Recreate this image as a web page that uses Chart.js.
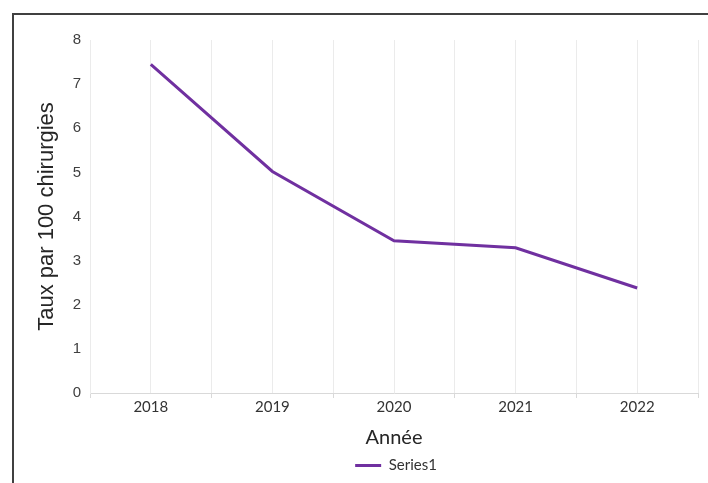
<!DOCTYPE html>
<html>
<head>
<meta charset="utf-8">
<script src="https://cdn.jsdelivr.net/npm/chart.js@4"></script>
<style>
  html, body { margin: 0; padding: 0; background: #fff; }
  #wrap { position: relative; width: 708px; height: 483px; overflow: hidden; }
  #frame { position: absolute; left: 12px; top: 13px; width: 720px; height: 500px;
           border-top: 2px solid #404040; border-left: 2px solid #404040; }
  canvas { position: absolute; left: 0; top: 0; }
</style>
</head>
<body>
<div id="wrap">
  <div id="frame"></div>
  <canvas id="chart" width="708" height="483"></canvas>
</div>
<script>
  // Données
  const years = [2018, 2019, 2020, 2021, 2022];
  const rates = [7.45, 5.02, 3.45, 3.29, 2.38];
  const yTicks = [0, 1, 2, 3, 4, 5, 6, 7, 8];

  const purple = '#7030a0';
  const gridGrey = '#ebebeb';

  // recentrer la légende sous la zone de tracé
  const legendShift = {
    id: 'legendShift',
    afterLayout(chart) {
      const L = chart.legend;
      const target = (chart.chartArea.left + chart.chartArea.right) / 2 + 2;
      const d = target - (L.left + L.right) / 2;
      L.left += d;
      L.right += d;
    }
  };

  new Chart(document.getElementById('chart'), {
    type: 'line',
    data: {
      datasets: [{
        label: 'Series1',
        data: years.map((y, i) => ({ x: y, y: rates[i] })),
        borderColor: purple,
        backgroundColor: purple,
        borderWidth: 3,
        pointRadius: 0,
        tension: 0,
      }],
    },
    options: {
      responsive: false,
      animation: false,
      layout: { padding: { top: 40, right: 10, bottom: 0, left: 0 } },
      scales: {
        x: {
          type: 'linear',
          min: 2017.5,
          max: 2022.5,
          afterBuildTicks: (scale) => {
            const t = [];
            for (let v = 2017.5; v <= 2022.5; v += 0.5) t.push({ value: v });
            scale.ticks = t;
          },
          afterFit: (scale) => { scale.height = 57; },
          ticks: {
            autoSkip: false,
            maxRotation: 0,
            padding: 0,
            color: '#333',
            font: { family: 'Lato', size: 15 },
            callback: (v) => (Number.isInteger(v) ? String(v) : ''),
          },
          grid: {
            color: gridGrey,
            drawTicks: true,
            tickLength: 5,
            tickColor: (ctx) => (ctx.tick && Number.isInteger(ctx.tick.value) ? 'rgba(0,0,0,0)' : '#d9d9d9'),
          },
          border: { color: '#d9d9d9', width: 1 },
          title: {
            display: true,
            text: 'Année',
            color: '#262626',
            font: { family: 'Lato', size: 20 },
            padding: { top: 0, bottom: 0 },
          },
        },
        y: {
          min: 0,
          max: 8,
          afterBuildTicks: (scale) => { scale.ticks = yTicks.map(v => ({ value: v })); },
          afterFit: (scale) => { scale.width = 90; },
          ticks: {
            padding: 9,
            color: '#404040',
            font: { family: 'Liberation Sans', size: 15 },
          },
          grid: { display: false, drawTicks: false },
          border: { color: gridGrey, width: 1 },
          title: {
            display: true,
            text: 'Taux par 100 chirurgies',
            color: '#262626',
            font: { family: 'Liberation Sans', size: 22 },
            padding: { top: 34, bottom: 0 },
          },
        },
      },
      plugins: {
        legend: {
          position: 'bottom',
          labels: {
            usePointStyle: true,
            pointStyle: 'line',
            pointStyleWidth: 26,
            padding: 8,
            color: '#333',
            font: { family: 'Lato', size: 15 },
          },
        },
        tooltip: { enabled: false },
      },
    },
    plugins: [legendShift],
  });
</script>
</body>
</html>
